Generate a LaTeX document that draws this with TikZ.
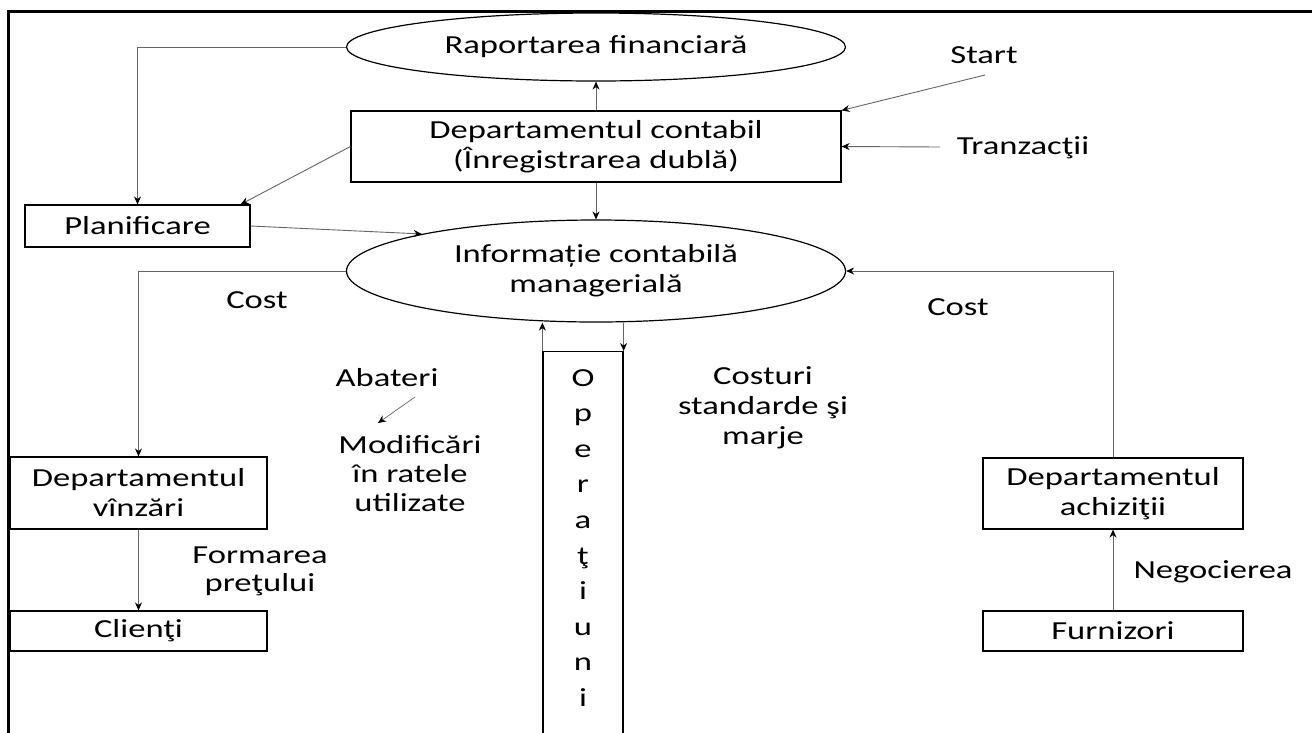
\documentclass[tikz,border=0pt]{standalone}
\usepackage{fontspec}
\setmainfont[FakeStretch=1.33]{Carlito}
\usetikzlibrary{shapes.geometric,arrows.meta,calc}

\tikzset{
  box/.style={draw=black, line width=1.2pt, rectangle, inner sep=0pt, align=center},
  oval/.style={draw=black, line width=1.2pt, ellipse, inner sep=0pt, align=center},
  lbl/.style={inner sep=0pt, align=center},
  link/.style={draw=black!60, line width=0.9pt, -{Stealth[length=8pt,width=7pt,black]}},
}

\begin{document}
\begin{tikzpicture}[x=1pt, y=-1pt, font=\fontsize{26}{30}\selectfont]
\clip (0,0) rectangle (1312,732);
\fill[white] (0,0) rectangle (1312,732);

% outer frame (top and left edges)
\draw[line width=3pt] (8,740) -- (8,11) -- (1320,11);

% main nodes
\node[oval, minimum width=499pt, minimum height=68pt] (fin) at (596,47) {Raportarea financiară};
\node[box, minimum width=490pt, minimum height=71pt] (cont) at (596,146.5) {Departamentul contabil\\(Înregistrarea dublă)};
\node[oval, minimum width=499pt, minimum height=102pt] (info) at (596,271) {Informație contabilă\\managerială};
\node[box, minimum width=225pt, minimum height=42pt] (plan) at (137.5,226) {Planificare};
\node[box, minimum width=257pt, minimum height=72pt] (vanz) at (138.5,493) {Departamentul\\vînzări};
\node[box, minimum width=257pt, minimum height=40pt] (cli) at (138.5,631) {Clienţi};
\node[box, minimum width=260pt, minimum height=71pt] (achiz) at (1113,493.5) {Departamentul\\achiziţii};
\node[box, minimum width=260pt, minimum height=40pt] (furn) at (1113,631) {Furnizori};
\node[box, minimum width=80pt, minimum height=420pt, anchor=north] (oper) at (583,351) {};
\node[lbl, anchor=north, font=\fontsize{26}{35.6}\selectfont] (opertxt) at (583,369) {O\\p\\e\\r\\a\\ţ\\i\\u\\n\\i};

% labels
\node[lbl] (start) at (984,55) {Start};
\node[lbl] (tranz) at (1023,148) {Tranzacţii};
\node[lbl] (costL) at (257,300) {Cost};
\node[lbl] (costR) at (958,307) {Cost};
\node[lbl] (abat) at (387,378) {Abateri};
\node[lbl, font=\fontsize{26}{29}\selectfont] (modif) at (410,474) {Modificări\\în ratele\\utilizate};
\node[lbl] (costuri) at (763,408) {Costuri\\standarde şi\\marje};
\node[lbl, font=\fontsize{26}{28}\selectfont] (pret) at (260,571) {Formarea\\preţului};
\node[lbl] (nego) at (1213,572) {Negocierea};

% free ends of connectors
\coordinate (startEnd) at (985,75);
\coordinate (tranzEnd) at (940,147);
\coordinate (abA) at (415,397);
\coordinate (abB) at (378,423);

% connectors
\draw[link] (cont.north) -- (fin.south);
\draw[link] (cont.south) -- (info.north);
\draw[link] (fin.west) -| (plan.north);
\draw[link] (cont.west) -- ($(plan.north east)+(-10,0)$);
\draw[link] (plan.east) -- (info.168);
\draw[link] (startEnd) -- (cont.north east);
\draw[link] (tranzEnd) -- (cont.east);
\draw[link] (info.west) -| (vanz.north);
\draw[link] (vanz.south) -- (cli.north);
\draw[link] (achiz.north) |- (info.east);
\draw[link] (furn.north) -- (achiz.south);
\draw[link] (oper.north west) -- (oper.north west |- info.south);
\draw[link] (oper.north east |- info.south) -- (oper.north east);
\draw[link, line width=0.7pt] (abA) -- (abB);
\end{tikzpicture}
\end{document}
